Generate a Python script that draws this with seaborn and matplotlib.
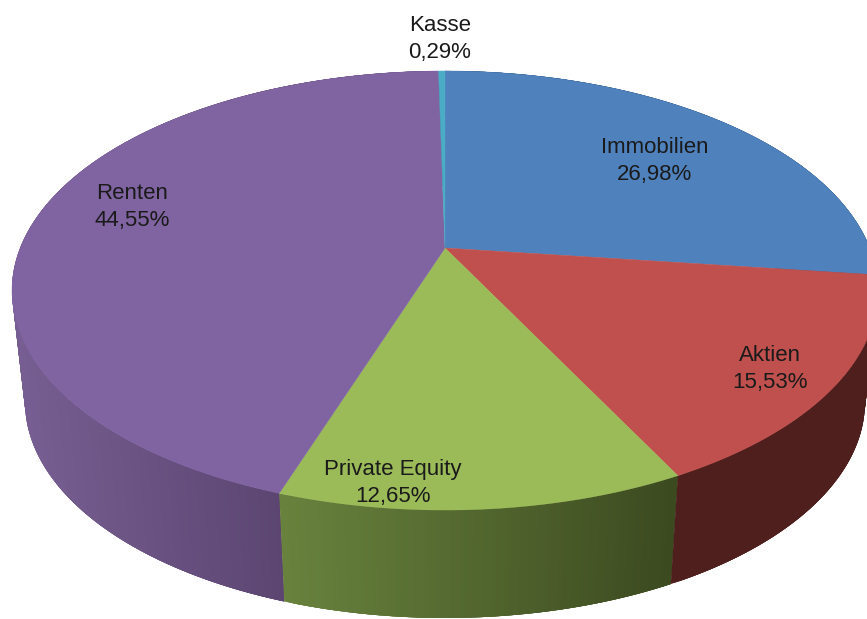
import numpy as np
import matplotlib
matplotlib.use("Agg")
import matplotlib.pyplot as plt
import matplotlib.colors as mc
from matplotlib.path import Path
from matplotlib.transforms import Transform
import seaborn as sns

categories = ["Immobilien", "Aktien", "Private Equity", "Renten", "Kasse"]
shares = [26.98, 15.53, 12.65, 44.55, 0.29]
top_colors = ["#4F81BD", "#C0504D", "#9BBB59", "#8064A2", "#4BACC6"]
wall_light = ["#2F4D71", "#4F1F1E", "#68823D", "#775E92", "#2D6776"]
wall_dark = ["#2F4D71", "#4F1F1E", "#3C4A20", "#5B4570", "#2D6776"]
wall_x_from = [445, 670, 285, 25, 440]
wall_x_to = [867, 867, 670, 285, 445]
label_xy = [(655, 161), (770, 369), (393, 483), (132, 207), (440, 39)]

sns.set_theme(style="white")
plt.rcParams["font.family"] = ["Liberation Sans", "DejaVu Sans"]


class Perspective(Transform):
    """Projects the unit pie disc onto the picture plane."""
    input_dims = output_dims = 2

    def __init__(self, cx, cy, a, b, k):
        super().__init__()
        self.cx, self.cy, self.a, self.b, self.k = cx, cy, a, b, k

    def transform_non_affine(self, xy):
        xy = np.asarray(xy, float)
        w = 1 + self.k * xy[:, 1]
        return np.column_stack([self.cx + self.a * xy[:, 0] / w,
                                self.cy - self.b * xy[:, 1] / w])

    def transform_path_non_affine(self, path):
        fine = Path(path.vertices * 2000, path.codes).to_polygons()[0] / 2000
        return Path(self.transform_non_affine(fine), closed=True)


top_rim = Perspective(445, 248, 424.8, 211.3, 0.1936)
low_rim = Perspective(445, 360, 412.0, 208.0, 0.1936)

fig = plt.figure(figsize=(8.67, 6.19), dpi=100, facecolor="white")
ax = fig.add_axes([0, 0, 1, 1])
wedges, _ = ax.pie(shares, colors=top_colors, startangle=90, counterclock=False,
                   wedgeprops={"linewidth": 0.3})
ax.set_aspect("auto")
ax.set_xlim(0, 867)
ax.set_ylim(619, 0)
ax.axis("off")

layer = {0: 1, 4: 0, 3: 2, 2: 3, 1: 4}
for i, w in enumerate(wedges):
    w.set_edgecolor(top_colors[i])
    w.set_transform(top_rim + ax.transData)
    w.set_zorder(5)
    # side wall: overlapping strips, each one painted over the previous, so no seams appear
    n = max(2, int(abs(w.theta2 - w.theta1) * 2))
    th = np.radians(np.linspace(w.theta1, w.theta2, n))
    unit = np.column_stack([np.cos(th), np.sin(th)])
    up = top_rim.transform_non_affine(unit)
    lo = low_rim.transform_non_affine(unit)
    c0 = np.array(mc.to_rgb(wall_light[i]))
    c1 = np.array(mc.to_rgb(wall_dark[i]))
    for j in range(n - 1):
        e = min(j + 4, n - 1)
        t = np.clip((up[j, 0] + lo[j, 0]) / 2, wall_x_from[i], wall_x_to[i])
        t = (t - wall_x_from[i]) / (wall_x_to[i] - wall_x_from[i])
        col = c0 + (c1 - c0) * t
        quad = np.vstack([up[j:e + 1], lo[j:e + 1][::-1]])
        ax.fill(quad[:, 0], quad[:, 1], color=col, lw=0, zorder=1 + layer[i] * 0.1)

for name, val, (x, y) in zip(categories, shares, label_xy):
    ax.text(x, y, f"{name}\n{val:.2f}".replace(".", ",") + "%", ha="center", va="center",
            fontsize=16, color="#1a1a1a", linespacing=1.37, zorder=10)

fig.savefig("out.png", dpi=100, facecolor="white")
